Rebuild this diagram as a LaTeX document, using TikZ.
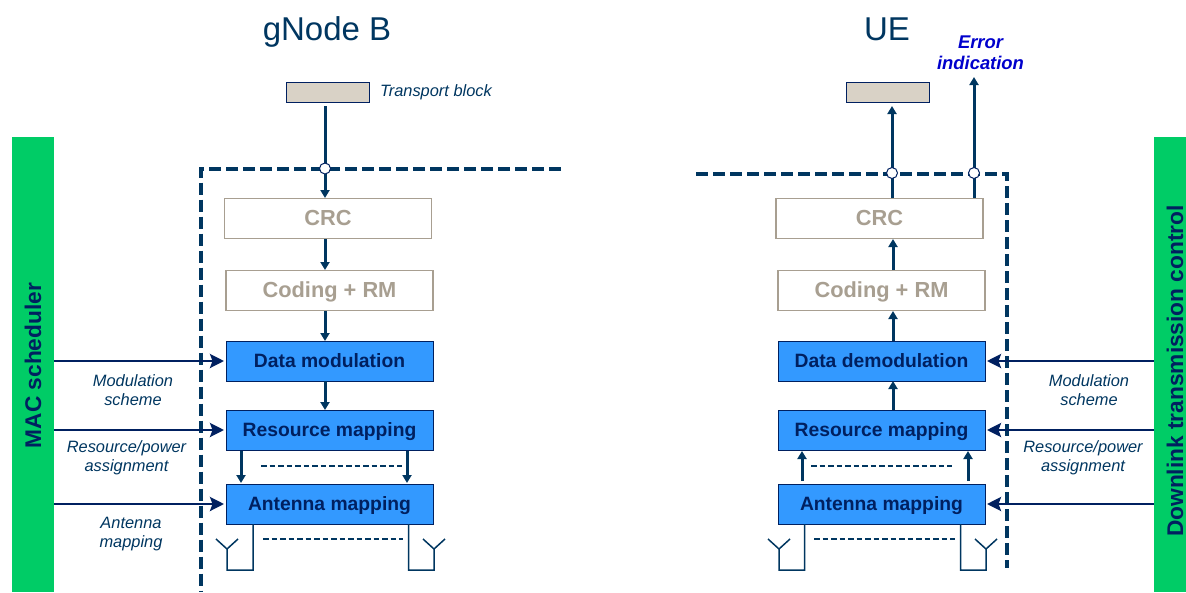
\documentclass[tikz,border=0pt]{standalone}
\usepackage{fontspec}
\setmainfont{Liberation Sans}
\usetikzlibrary{arrows.meta,calc}
\definecolor{navy}{HTML}{003660}
\definecolor{deep}{HTML}{002060}
\definecolor{bluebox}{HTML}{3399FF}
\definecolor{greenbar}{HTML}{00CC66}
\definecolor{beige}{HTML}{D9D2C6}
\definecolor{greytxt}{HTML}{A89F91}
\definecolor{errblue}{HTML}{0000CC}
\tikzset{
  x=1pt,y=-1pt,
  blockbox/.style={draw=deep,line width=1pt,fill=bluebox,minimum width=207pt,minimum height=40pt,inner sep=0pt,text height=13pt,text depth=1pt,text=deep,font=\fontsize{19.3}{21}\selectfont\bfseries},
  greybox/.style={draw=greytxt,line width=1.2pt,fill=white,minimum width=207pt,minimum height=40.5pt,inner sep=0pt,text height=14pt,text depth=1pt,text=greytxt,font=\fontsize{21.8}{24}\selectfont\bfseries},
  tbbox/.style={draw=deep,line width=1pt,fill=beige,minimum width=83pt,minimum height=20pt,inner sep=0pt},
  sidetxt/.style={rotate=90,text=deep,font=\fontsize{22.7}{25}\selectfont\bfseries},
  title/.style={text=navy,font=\fontsize{33}{36}\selectfont},
  lbl/.style={text=navy,align=center,font=\fontsize{16.4}{19.3}\selectfont\itshape},
  flow/.style={navy,line width=3pt,-{Triangle[length=8pt,width=9pt]}},
  plainflow/.style={navy,line width=3pt},
  ctrl/.style={deep,line width=2.6pt,-{Stealth[length=14pt,width=14pt,inset=2.5pt]}},
  dots/.style={navy,line width=2pt,dash pattern=on 5.5pt off 3pt},
  border/.style={navy,line width=4pt,dash pattern=on 12pt off 5pt},
  ant/.style={navy,line width=1.5pt},
  tap/.style={circle,draw=deep,fill=white,line width=1pt,minimum size=11pt,inner sep=0pt},
}
\begin{document}
\begin{tikzpicture}
\useasboundingbox (0,0) rectangle (1186,592);
% side bars
\fill[greenbar] (12,137) rectangle (54,592);
\fill[greenbar] (1154,137) rectangle (1186,592);
\node[sidetxt] (mac) at (33,365.5) {MAC scheduler};
\node[sidetxt] (dl) at (1175,371) {Downlink transmission control};
\coordinate (macA) at (54,361);
\coordinate (macB) at (54,430);
\coordinate (macC) at (54,504);
\coordinate (dlA) at (1154,361);
\coordinate (dlB) at (1154,430);
\coordinate (dlC) at (1154,504);
% borders
\coordinate (bl0) at (201,592);
\coordinate (bl1) at (201,168.5);
\coordinate (bl2) at (561,168.5);
\coordinate (br0) at (696,174);
\coordinate (br1) at (1007,174);
\coordinate (br2) at (1007,568);
\draw[border] (bl2) -- (bl1) -- (bl0);
\draw[border] (br0) -- (br1) -- (br2);
% titles
\node[title] (tg) at (327,32) {gNode B};
\node[title] (tu) at (887,29) {UE};
\node[text=errblue,align=center,font=\fontsize{18.4}{21}\selectfont\bfseries\itshape] (err) at (980.5,53) {Error\\indication};
% transport blocks
\node[tbbox] (tbl) at (327.5,92) {};
\node[tbbox] (tbr) at (887.5,92) {};
\node[lbl,anchor=west] (tbt) at (376.5,92) {Transport block};
% gNB boxes
\node[greybox] (crcl) at (328,218.5) {CRC};
\node[greybox] (codl) at (329.5,290.5) {Coding + RM};
\node[blockbox] (modl) at (329.5,361) {Data modulation};
\node[blockbox] (resl) at (329.5,430) {Resource mapping};
\node[blockbox] (antl) at (329.5,504) {Antenna mapping};
% UE boxes
\node[greybox] (crcr) at (879.5,218.5) {CRC};
\node[greybox] (codr) at (881.5,290.5) {Coding + RM};
\node[blockbox] (modr) at (881.5,361) {Data demodulation};
\node[blockbox] (resr) at (881.5,430) {Resource mapping};
\node[blockbox] (antr) at (881.5,504) {Antenna mapping};
% tap circles
\coordinate (l0) at (325,106);
\draw[plainflow] (l0) -- (325,169);
\draw[flow] (325,169) -- (325,198);
\draw[flow] (325,239) -- (325,270);
\draw[flow] (325,311) -- (325,341);
\draw[flow] (325,381) -- (325,410);
\draw[flow] (241,451) -- (241,483);
\draw[flow] (407,451) -- (407,483);
\draw[dots] (261,466) -- (402,466);
% UE flow
\draw[plainflow] (892,198) -- (892,173);
\draw[flow] (892,173) -- (892,106);
\draw[plainflow] (974,198) -- (974,173);
\draw[flow] (974,173) -- (974,77);
\draw[flow] (893,270) -- (893,239);
\draw[flow] (893,341) -- (893,311);
\draw[flow] (893,410) -- (893,381);
\draw[flow] (802,481) -- (802,451);
\draw[flow] (968,481) -- (968,451);
\draw[dots] (811,466) -- (952,466);
\node[tap] (tapl) at (325,168.5) {};
\node[tap] (tapr) at (892,173) {};
\node[tap] (tape) at (974,173) {};
% control arrows
\draw[ctrl] (macA) -- (224,361);
\draw[ctrl] (macB) -- (224,430);
\draw[ctrl] (macC) -- (224,504);
\draw[ctrl] (dlA) -- (987,361);
\draw[ctrl] (dlB) -- (987,430);
\draw[ctrl] (dlC) -- (987,504);
% labels
\node[lbl] (l1) at (133,390) {Modulation\\scheme};
\node[lbl] (l2) at (126.5,458) {Resource/power\\assignment};
\node[lbl] (l3) at (131,534) {Antenna\\mapping};
\node[lbl] (r1) at (1089,390) {Modulation\\scheme};
\node[lbl] (r2) at (1083,458) {Resource/power\\assignment};
% antennas
\draw[ant] (253,524) -- (253,570) -- (227,570) -- (227,549) -- (216,539) (227,549) -- (238,539);
\draw[ant] (408.5,524) -- (408.5,570) -- (434,570) -- (434,549) -- (423,539) (434,549) -- (445,539);
\draw[ant] (804.5,524) -- (804.5,570) -- (779,570) -- (779,549) -- (768,539) (779,549) -- (790,539);
\draw[ant] (960.5,524) -- (960.5,570) -- (986,570) -- (986,549) -- (975,539) (986,549) -- (997,539);
\draw[dots] (263,539) -- (403,539);
\draw[dots] (814,539) -- (955,539);
\end{tikzpicture}
\end{document}
